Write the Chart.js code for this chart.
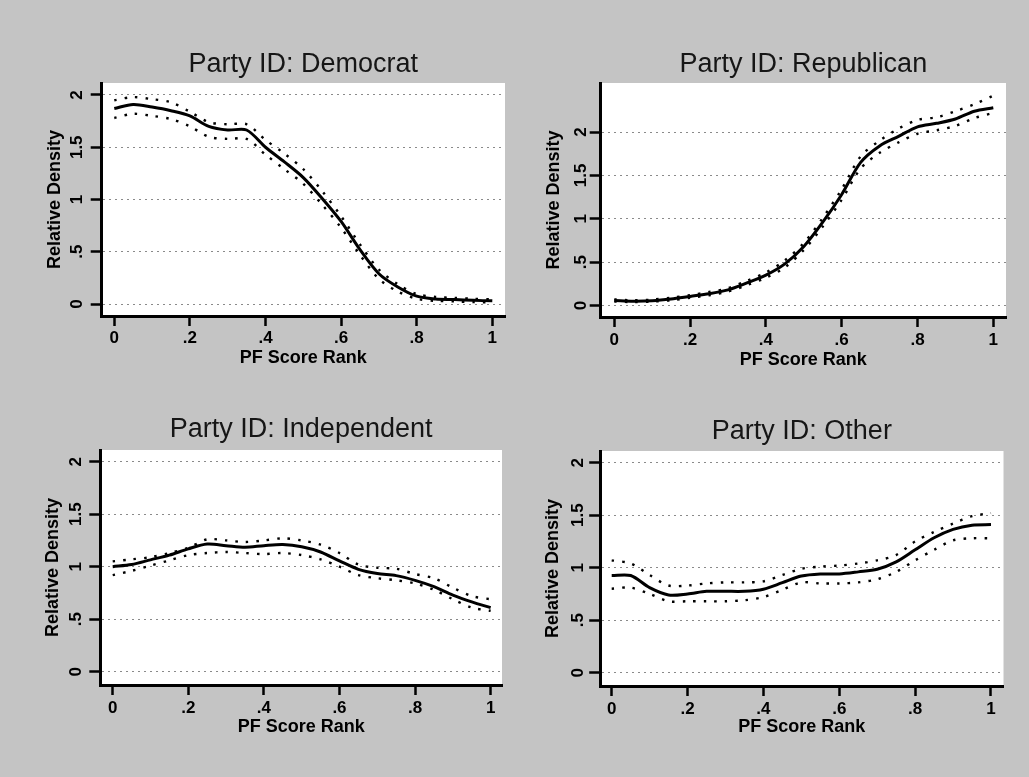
<!DOCTYPE html>
<html>
<head>
<meta charset="utf-8">
<title>Relative density by party ID</title>
<script src="https://cdn.jsdelivr.net/npm/chart.js@4.4.1/dist/chart.umd.min.js"></script>
<style>
  html, body { margin: 0; padding: 0; background: #c4c4c4; }
  body { width: 1029px; height: 777px; position: relative; overflow: hidden; }
  canvas { position: absolute; }
</style>
</head>
<body>
<canvas id="dem" width="514" height="388" style="left:0;top:0;width:514px;height:388px"></canvas>
<canvas id="rep" width="515" height="388" style="left:514px;top:0;width:515px;height:388px"></canvas>
<canvas id="ind" width="514" height="389" style="left:0;top:388px;width:514px;height:389px"></canvas>
<canvas id="oth" width="515" height="389" style="left:514px;top:388px;width:515px;height:389px"></canvas>
<script>
// PF score rank grid shared by all four panels
const pfRank = [0, 0.05, 0.1, 0.15, 0.2, 0.25, 0.3, 0.35, 0.4, 0.45, 0.5,
                0.55, 0.6, 0.65, 0.7, 0.75, 0.8, 0.85, 0.9, 0.95, 1];

// Relative density estimate (fit) and its upper / lower bands
const demFit   = [1.87, 1.91, 1.885, 1.85, 1.80, 1.70, 1.665, 1.665, 1.50, 1.36, 1.21, 1.01, 0.79, 0.52, 0.29, 0.163, 0.075, 0.048, 0.043, 0.035, 0.03];
const demUpper = [1.95, 1.98, 1.96, 1.93, 1.84, 1.74, 1.72, 1.72, 1.57, 1.44, 1.29, 1.08, 0.84, 0.57, 0.33, 0.19, 0.095, 0.068, 0.058, 0.05, 0.045];
const demLower = [1.78, 1.82, 1.80, 1.77, 1.70, 1.60, 1.58, 1.58, 1.43, 1.29, 1.15, 0.95, 0.73, 0.47, 0.24, 0.12, 0.05, 0.03, 0.025, 0.018, 0.015];

const repFit   = [0.058, 0.05, 0.055, 0.075, 0.105, 0.135, 0.18, 0.26, 0.35, 0.48, 0.68, 0.96, 1.28, 1.65, 1.84, 1.95, 2.06, 2.10, 2.15, 2.24, 2.28];
const repUpper = [0.07, 0.06, 0.068, 0.09, 0.12, 0.155, 0.20, 0.285, 0.38, 0.52, 0.72, 1.01, 1.34, 1.72, 1.90, 2.04, 2.14, 2.17, 2.24, 2.32, 2.42];
const repLower = [0.045, 0.04, 0.045, 0.06, 0.09, 0.118, 0.16, 0.235, 0.32, 0.44, 0.64, 0.91, 1.22, 1.58, 1.76, 1.88, 1.98, 2.02, 2.07, 2.16, 2.22];

const indFit   = [1.0, 1.02, 1.065, 1.11, 1.17, 1.215, 1.20, 1.185, 1.20, 1.21, 1.19, 1.14, 1.055, 0.975, 0.935, 0.915, 0.87, 0.81, 0.73, 0.665, 0.61];
const indUpper = [1.05, 1.07, 1.09, 1.13, 1.18, 1.26, 1.25, 1.235, 1.25, 1.27, 1.25, 1.21, 1.13, 1.02, 0.99, 0.98, 0.93, 0.89, 0.80, 0.72, 0.69];
const indLower = [0.92, 0.96, 1.01, 1.06, 1.11, 1.13, 1.14, 1.13, 1.12, 1.13, 1.11, 1.07, 1.0, 0.92, 0.89, 0.87, 0.84, 0.78, 0.69, 0.61, 0.58];

const othFit   = [0.925, 0.925, 0.81, 0.74, 0.75, 0.775, 0.775, 0.775, 0.795, 0.857, 0.92, 0.94, 0.94, 0.96, 0.985, 1.055, 1.17, 1.285, 1.365, 1.405, 1.41];
const othUpper = [1.07, 1.04, 0.93, 0.83, 0.83, 0.85, 0.86, 0.86, 0.87, 0.93, 0.99, 1.01, 1.02, 1.04, 1.07, 1.12, 1.25, 1.34, 1.42, 1.49, 1.52];
const othLower = [0.80, 0.81, 0.75, 0.68, 0.68, 0.68, 0.68, 0.69, 0.72, 0.79, 0.86, 0.85, 0.85, 0.86, 0.89, 0.96, 1.07, 1.17, 1.26, 1.28, 1.28];

// Axis ticks and labels
const xTickValues = [0, 0.2, 0.4, 0.6, 0.8, 1];
const xTickLabels = ['0', '.2', '.4', '.6', '.8', '1'];
const yTickValues = [0, 0.5, 1, 1.5, 2];
const yTickLabels = ['0', '.5', '1', '1.5', '2'];

const xAxisTitle = 'PF Score Rank';
const yAxisTitle = 'Relative Density';

// Panel layout: canvas-local plot frame, axis ranges and label offsets
const panels = [
  { id: 'dem', title: 'Party ID: Democrat', fit: demFit, upper: demUpper, lower: demLower,
    pad: { left: 0, right: 9, top: 0, bottom: 12 }, yAxisW: 101.7,
    titlePad: { top: 51, bottom: 5 }, yTitlePad: 46.5, yTickPad: 1.1, xTickPad: 1.8, xTitlePad: 8.5,
    xMin: -0.0333, xMax: 1.0336, yMin: -0.1148, yMax: 2.1148 },
  { id: 'rep', title: 'Party ID: Republican', fit: repFit, upper: repUpper, lower: repLower,
    pad: { left: 0, right: 23, top: 0, bottom: 11 }, yAxisW: 86.7,
    titlePad: { top: 51, bottom: 5 }, yTitlePad: 31, yTickPad: -3.1, xTickPad: 2.8, xTitlePad: 8,
    xMin: -0.0359, xMax: 1.0335, yMin: -0.1326, yMax: 2.565 },
  { id: 'ind', title: 'Party ID: Independent', fit: indFit, upper: indUpper, lower: indLower,
    pad: { left: 0, right: 12, top: 0, bottom: 32 }, yAxisW: 100.3,
    titlePad: { top: 28.5, bottom: 6.5 }, yTitlePad: 44.3, yTickPad: 1.3, xTickPad: 3.1, xTitlePad: 9.3,
    xMin: -0.0328, xMax: 1.030, yMin: -0.1267, yMax: 2.111 },
  { id: 'oth', title: 'Party ID: Other', fit: othFit, upper: othUpper, lower: othLower,
    pad: { left: 0, right: 25.5, top: 0, bottom: 31 }, yAxisW: 86.2,
    titlePad: { top: 30.5, bottom: 5.5 }, yTitlePad: 29.7, yTickPad: -1.1, xTickPad: 3.5, xTitlePad: 10.3,
    xMin: -0.0303, xMax: 1.033, yMin: -0.1267, yMax: 2.111 }
];

Chart.defaults.font.family = '"Liberation Sans", Arial, Helvetica, sans-serif';
Chart.defaults.color = '#000';

// White plot region behind the curves
const plotBackground = {
  id: 'plotBackground',
  beforeDraw(chart) {
    const { ctx, chartArea: a } = chart;
    ctx.save();
    ctx.fillStyle = '#ffffff';
    ctx.fillRect(a.left, a.top, a.right - a.left, a.bottom - a.top);
    ctx.restore();
  }
};

const toPoints = (ys) => pfRank.map((x, i) => ({ x: x, y: ys[i] }));

const bandSeries = (label, ys) => ({
  label: label,
  data: toPoints(ys),
  borderColor: '#000',
  borderWidth: 2.4,
  borderDash: [2.5, 8],
  pointRadius: 0,
  tension: 0.3,
  fill: false
});

panels.forEach((p) => {
  new Chart(document.getElementById(p.id), {
    type: 'line',
    data: {
      datasets: [
        bandSeries('Upper', p.upper),
        bandSeries('Lower', p.lower),
        {
          label: 'Relative density',
          data: toPoints(p.fit),
          borderColor: '#000',
          borderWidth: 3,
          pointRadius: 0,
          tension: 0.3,
          fill: false
        }
      ]
    },
    options: {
      responsive: false,
      animation: false,
      events: [],
      layout: { padding: p.pad },
      plugins: {
        legend: { display: false },
        tooltip: { enabled: false },
        title: {
          display: true,
          text: p.title,
          fullSize: false,
          color: '#161616',
          font: { size: 27, weight: 'normal', lineHeight: 1 },
          padding: p.titlePad
        }
      },
      scales: {
        x: {
          type: 'linear',
          bounds: 'data',
          min: p.xMin,
          max: p.xMax,
          afterBuildTicks: (s) => { s.ticks = xTickValues.map((v) => ({ value: v })); },
          afterFit: (s) => { s.height = 60; },
          border: { display: true, color: '#000', width: 3 },
          grid: {
            drawOnChartArea: false,
            drawTicks: true,
            tickLength: 10,
            tickColor: '#000',
            tickWidth: 2.5,
            tickBorderDash: []
          },
          ticks: {
            autoSkip: false,
            maxRotation: 0,
            padding: p.xTickPad,
            color: '#000',
            font: { size: 17, weight: 'bold' },
            callback: (v, i) => xTickLabels[i]
          },
          title: {
            display: true,
            text: xAxisTitle,
            color: '#000',
            font: { size: 18, weight: 'bold', lineHeight: 1 },
            padding: { top: 0, bottom: p.xTitlePad }
          }
        },
        y: {
          type: 'linear',
          bounds: 'data',
          min: p.yMin,
          max: p.yMax,
          afterBuildTicks: (s) => { s.ticks = yTickValues.map((v) => ({ value: v })); },
          afterFit: (s) => { s.width = p.yAxisW; },
          border: { display: true, color: '#000', width: 3, dash: [2, 4] },
          grid: {
            drawOnChartArea: true,
            color: '#8a8a8a',
            lineWidth: 1,
            drawTicks: true,
            tickLength: 11,
            tickColor: '#000',
            tickWidth: 2.5,
            tickBorderDash: []
          },
          ticks: {
            autoSkip: false,
            minRotation: 90,
            maxRotation: 90,
            crossAlign: 'center',
            padding: p.yTickPad,
            color: '#000',
            font: { size: 17, weight: 'bold' },
            callback: (v, i) => yTickLabels[i]
          },
          title: {
            display: true,
            text: yAxisTitle,
            color: '#000',
            font: { size: 18, weight: 'bold', lineHeight: 1 },
            padding: { top: p.yTitlePad, bottom: 0 }
          }
        }
      }
    },
    plugins: [plotBackground]
  });
});
</script>
</body>
</html>
